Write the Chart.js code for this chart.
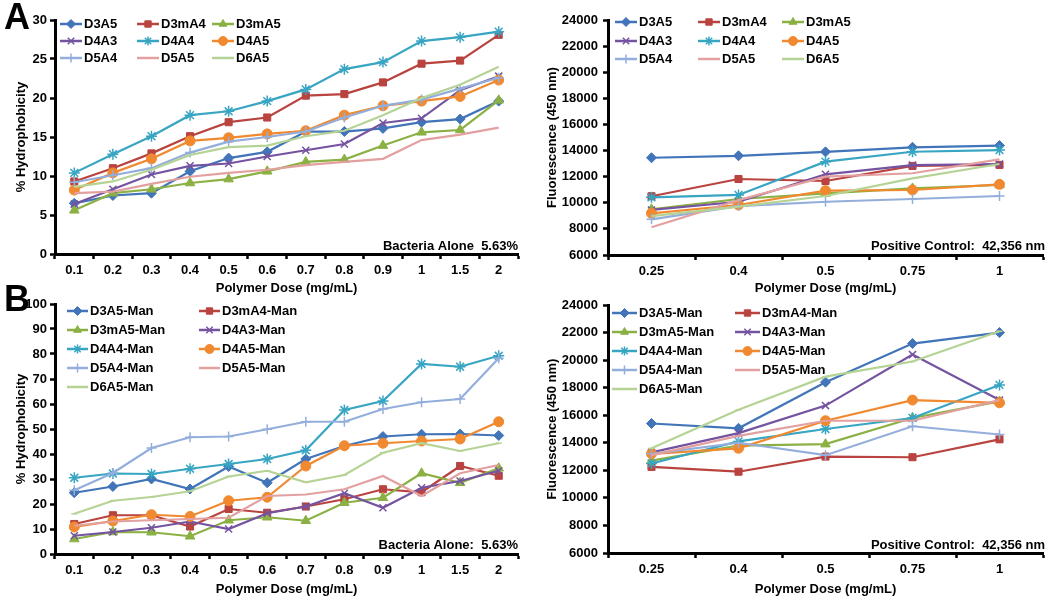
<!DOCTYPE html>
<html><head><meta charset="utf-8">
<script src="https://cdn.jsdelivr.net/npm/chart.js@4.4.0/dist/chart.umd.min.js"></script>
<style>
body{margin:0;background:#fff;width:1050px;height:597px;overflow:hidden;position:relative;font-family:"Liberation Sans",Arial,sans-serif;}
canvas{position:absolute;}
.lbl{position:absolute;font-weight:bold;font-size:36px;line-height:1;color:#000;}
</style></head><body>
<canvas id="c1" width="525" height="300" style="left:0;top:0"></canvas>
<canvas id="c2" width="525" height="300" style="left:525px;top:0"></canvas>
<canvas id="c3" width="525" height="307" style="left:0;top:290px"></canvas>
<canvas id="c4" width="525" height="307" style="left:525px;top:290px"></canvas>
<div class="lbl" style="left:4px;top:-1px">A</div>
<div class="lbl" style="left:4px;top:281px">B</div>
<script>
// ---- categories ----
const doseHydro = ['0.1','0.2','0.3','0.4','0.5','0.6','0.7','0.8','0.9','1','1.5','2'];
const doseFluor = ['0.25','0.4','0.5','0.75','1'];
const namesA = ['D3A5','D3mA4','D3mA5','D4A3','D4A4','D4A5','D5A4','D5A5','D6A5'];
const namesB = ['D3A5-Man','D3mA4-Man','D3mA5-Man','D4A3-Man','D4A4-Man','D4A5-Man','D5A4-Man','D5A5-Man','D6A5-Man'];

// ---- Panel A left: % hydrophobicity ----
const hA_D3A5  = [6.5, 7.5, 7.8, 10.6, 12.3, 13.1, 15.7, 15.7, 16.1, 16.9, 17.3, 19.6];
const hA_D3mA4 = [9.3, 11.0, 12.9, 15.1, 16.9, 17.5, 20.3, 20.5, 22.0, 24.4, 24.8, 28.1];
const hA_D3mA5 = [5.6, 7.8, 8.3, 9.1, 9.6, 10.6, 11.8, 12.1, 13.9, 15.6, 15.9, 19.7];
const hA_D4A3  = [6.4, 8.3, 10.2, 11.3, 11.6, 12.5, 13.3, 14.1, 16.8, 17.4, 21.0, 22.8];
const hA_D4A4  = [10.4, 12.8, 15.1, 17.8, 18.3, 19.6, 21.1, 23.7, 24.6, 27.3, 27.8, 28.5];
const hA_D4A5  = [8.2, 10.4, 12.2, 14.5, 14.9, 15.4, 15.8, 17.8, 19.0, 19.6, 20.2, 22.3];
const hA_D5A4  = [9.2, 10.1, 11.0, 13.0, 14.4, 15.0, 15.7, 17.5, 19.0, 19.8, 21.2, 22.6];
const hA_D5A5  = [7.8, 8.0, 9.0, 9.9, 10.4, 10.8, 11.4, 11.8, 12.2, 14.6, 15.3, 16.2];
const hA_D6A5  = [8.6, 9.3, 10.8, 12.7, 13.7, 13.9, 15.1, 15.8, 17.8, 20.0, 21.7, 24.0];

// ---- Panel A right: fluorescence ----
const fA_D3A5  = [13450, 13600, 13900, 14250, 14380];
const fA_D3mA4 = [10500, 11820, 11670, 12820, 12900];
const fA_D3mA5 = [9500, 10290, 10720, 11100, 11360];
const fA_D4A3  = [9450, 10080, 12180, 12890, 12970];
const fA_D4A4  = [10420, 10600, 13150, 13910, 14040];
const fA_D4A5  = [9190, 9830, 10930, 10980, 11410];
const fA_D5A4  = [8730, 9750, 10080, 10290, 10520];
const fA_D5A5  = [8120, 10200, 12000, 12260, 13330];
const fA_D6A5  = [8980, 9700, 10520, 11870, 12970];

// ---- Panel B left: % hydrophobicity (Man) ----
const hB_D3A5  = [24.5, 27.0, 30.0, 26.0, 35.0, 28.5, 38.0, 43.2, 47.0, 47.9, 48.0, 47.4];
const hB_D3mA4 = [12.0, 15.5, 15.5, 11.0, 18.0, 16.5, 19.0, 21.9, 25.9, 24.7, 35.2, 31.3];
const hB_D3mA5 = [6.0, 8.8, 8.7, 7.1, 13.5, 14.7, 13.3, 20.5, 22.5, 32.3, 28.5, 34.3];
const hB_D4A3  = [7.3, 8.8, 10.5, 13.0, 10.0, 16.3, 19.0, 24.3, 18.5, 26.5, 29.2, 33.3];
const hB_D4A4  = [30.5, 32.2, 32.0, 34.1, 36.0, 38.0, 41.5, 57.6, 61.2, 76.0, 74.9, 79.3];
const hB_D4A5  = [10.8, 13.2, 15.7, 15.0, 21.3, 22.7, 35.2, 43.3, 44.3, 45.2, 46.0, 52.9];
const hB_D5A4  = [25.5, 32.4, 42.4, 46.7, 47.0, 49.9, 52.9, 52.9, 58.0, 60.7, 62.0, 78.3];
const hB_D5A5  = [11.3, 13.0, 13.5, 14.0, 14.5, 23.2, 23.8, 25.9, 31.2, 23.2, 32.3, 35.6];
const hB_D6A5  = [16.1, 21.3, 22.8, 25.1, 31.0, 33.3, 28.7, 31.6, 40.5, 44.3, 41.2, 44.3];

// ---- Panel B right: fluorescence (Man) ----
const fB_D3A5  = [15400, 15050, 18400, 21200, 22000];
const fB_D3mA4 = [12250, 11900, 13000, 12950, 14250];
const fB_D3mA5 = [12700, 13800, 13900, 15800, 17000];
const fB_D4A3  = [13300, 14700, 16700, 20400, 17100];
const fB_D4A4  = [12500, 14100, 15000, 15800, 18200];
const fB_D4A5  = [13200, 13600, 15600, 17100, 16900];
const fB_D5A4  = [13200, 14000, 13100, 15200, 14600];
const fB_D5A5  = [13100, 14500, 15600, 15600, 17100];
const fB_D6A5  = [13600, 16400, 18800, 19900, 22100];

// ---- styles ----
const FAMILY = '"Liberation Sans", Arial, sans-serif';
Chart.defaults.font.family = FAMILY;
const colors = ['#4174B8','#B9433F','#8BB043','#7453A0','#38A5C2','#F0892F','#94AEDC','#E3A0A0','#B5D394'];
const markers = [['rectRot',5],['rect',5],['triangle',5.5],['crossRot',5],['star',5.5],['circle',5],['cross',5],['circle',0],['line',0]];

function makeSets(names, arrays, lineMarkerLast) {
  return names.map((n, i) => {
    let [ps, r] = markers[i];
    if (i === 8 && lineMarkerLast) r = 3;
    return {
      label: n, data: arrays[i],
      borderColor: colors[i], backgroundColor: colors[i],
      pointBackgroundColor: colors[i], pointBorderColor: colors[i],
      pointStyle: ps, pointRadius: r, pointHoverRadius: r,
      pointBorderWidth: (ps === 'star' || ps === 'cross' || ps === 'crossRot' || ps === 'line') ? 1.5 : 1,
      borderWidth: 2.2, tension: 0, fill: false, order: 8 - i
    };
  });
}

const overlay = {
  id: 'overlay',
  afterDraw(chart, args, o) {
    const ctx = chart.ctx;
    ctx.save();
    ctx.font = 'bold 13px ' + FAMILY;
    ctx.textBaseline = 'middle';
    chart.data.datasets.forEach((ds, i) => {
      const col = i % o.ncol, row = Math.floor(i / o.ncol);
      const x = o.colX[col], y = o.rowY[row];
      ctx.strokeStyle = ds.borderColor; ctx.lineWidth = 2.5;
      ctx.beginPath(); ctx.moveTo(x, y); ctx.lineTo(x + o.lineLen, y); ctx.stroke();
      if (ds.pointRadius > 0) {
        ctx.fillStyle = ds.pointBackgroundColor; ctx.strokeStyle = ds.pointBorderColor;
        ctx.lineWidth = ds.pointBorderWidth;
        Chart.helpers.drawPoint(ctx, {pointStyle: ds.pointStyle, radius: Math.min(ds.pointRadius, 4.5), rotation: 0, borderWidth: ds.pointBorderWidth}, x + o.lineLen / 2, y);
      }
      ctx.fillStyle = '#000'; ctx.textAlign = 'left';
      ctx.fillText(ds.label, x + o.lineLen + 2, y);
    });
    ctx.textAlign = 'right';
    ctx.fillText(o.note, o.noteX, o.noteY);
    ctx.restore();
  }
};

function scales(yMin, yMax, step, yTitle, yWidth, yTitlePad, xHeight, yTickPad, xTickPad, xTitlePad) {
  const f = {weight: 'bold', size: 13, family: FAMILY};
  return {
    x: {
      type: 'category', offset: true,
      grid: {offset: true, drawOnChartArea: false, drawTicks: true, tickLength: 5, tickColor: '#000', tickWidth: 2.5, color: '#000'},
      border: {display: true, color: '#000', width: 3},
      ticks: {color: '#000', font: f, padding: xTickPad, maxRotation: 0, autoSkip: false},
      title: {display: true, text: 'Polymer Dose (mg/mL)', color: '#000', font: f, padding: {top: 0, bottom: xTitlePad}},
      afterFit(s) { s.height = xHeight; }
    },
    y: {
      min: yMin, max: yMax,
      grid: {drawOnChartArea: false, drawTicks: true, tickLength: 5, tickColor: '#000', tickWidth: 2.5, color: '#000'},
      border: {display: true, color: '#000', width: 3},
      ticks: {stepSize: step, color: '#000', font: f, padding: yTickPad, callback: v => String(v)},
      title: {display: true, text: yTitle, color: '#000', font: f, padding: {top: yTitlePad, bottom: 0}},
      afterFit(s) { s.width = yWidth; }
    }
  };
}

function build(id, labels, sets, sc, pad, legend) {
  new Chart(document.getElementById(id), {
    type: 'line',
    data: {labels, datasets: sets},
    options: {
      responsive: false, animation: false, devicePixelRatio: 1,
      layout: {padding: pad},
      plugins: {legend: {display: false}, tooltip: {enabled: false}, overlay: legend},
      scales: sc
    },
    plugins: [overlay]
  });
}

build('c1', doseHydro,
  makeSets(namesA, [hA_D3A5,hA_D3mA4,hA_D3mA5,hA_D4A3,hA_D4A4,hA_D4A5,hA_D5A4,hA_D5A5,hA_D6A5], false),
  scales(0, 30, 5, '% Hydrophobicity', 55, 14, 46, 3, 4, 4),
  {top: 20, right: 6, left: 0, bottom: 0},
  {ncol: 3, colX: [60, 137, 212], rowY: [24, 41, 58], lineLen: 22, note: 'Bacteria Alone  5.63%', noteX: 518, noteY: 246});

build('c2', doseFluor,
  makeSets(namesA, [fA_D3A5,fA_D3mA4,fA_D3mA5,fA_D4A3,fA_D4A4,fA_D4A5,fA_D5A4,fA_D5A5,fA_D6A5], false),
  scales(6000, 24000, 2000, 'Fluorescence (450 nm)', 83, 20, 45, 5, 4, 4),
  {top: 20, right: 5, left: 0, bottom: 0},
  {ncol: 3, colX: [90, 173, 257], rowY: [22, 41, 59], lineLen: 22, note: 'Positive Control:  42,356 nm', noteX: 520, noteY: 246});

build('c3', doseHydro,
  makeSets(namesB, [hB_D3A5,hB_D3mA4,hB_D3mA5,hB_D4A3,hB_D4A4,hB_D4A5,hB_D5A4,hB_D5A5,hB_D6A5], true),
  scales(0, 100, 10, '% Hydrophobicity', 55, 14, 43, 3, 4, 0),
  {top: 14, right: 6, left: 0, bottom: 0},
  {ncol: 2, colX: [67, 199], rowY: [21, 40, 59, 78, 97], lineLen: 21, note: 'Bacteria Alone:  5.63%', noteX: 518, noteY: 255});

build('c4', doseFluor,
  makeSets(namesB, [fB_D3A5,fB_D3mA4,fB_D3mA5,fB_D4A3,fB_D4A4,fB_D4A5,fB_D5A4,fB_D5A5,fB_D6A5], true),
  scales(6000, 24000, 2000, 'Fluorescence (450 nm)', 83, 20, 44, 5, 4, 0),
  {top: 15, right: 5, left: 0, bottom: 0},
  {ncol: 2, colX: [87, 210], rowY: [23, 42, 61, 80, 99], lineLen: 25, note: 'Positive Control:  42,356 nm', noteX: 520, noteY: 255});
</script>
</body></html>
